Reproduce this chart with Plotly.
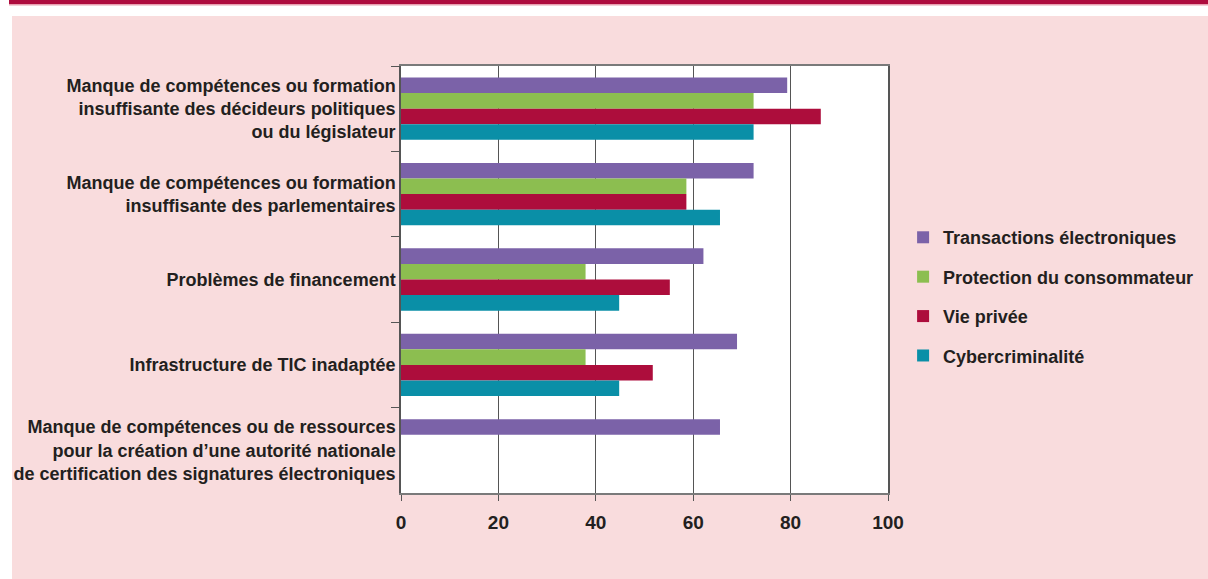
import plotly.graph_objects as go

categories = [
    "Manque de compétences ou formation<br>insuffisante des décideurs politiques<br>ou du législateur",
    "Manque de compétences ou formation<br>insuffisante des parlementaires",
    "Problèmes de financement",
    "Infrastructure de TIC inadaptée",
    "Manque de compétences ou de ressources<br>pour la création d’une autorité nationale<br>de certification des signatures électroniques",
]
series_names = [
    "Transactions électroniques",
    "Protection du consommateur",
    "Vie privée",
    "Cybercriminalité",
]
transactions = [79.3, 72.4, 62.1, 69.0, 65.5]
consommateur = [72.4, 58.6, 37.9, 37.9, None]
vie_privee = [86.2, 58.6, 55.2, 51.7, None]
cyber = [72.4, 65.5, 44.8, 44.8, None]
x_ticks = [0, 20, 40, 60, 80, 100]

colors = ["#7B62A8", "#8CBE50", "#AD0D3C", "#0A8FA7"]
values = [transactions, consommateur, vie_privee, cyber]

TEXT = "#231F20"
FONT = "Liberation Sans"

fig = go.Figure()
for name, vals, col in zip(series_names, values, colors):
    fig.add_trace(go.Bar(
        y=categories, x=vals, name=name, orientation="h",
        marker=dict(color=col, line=dict(width=0)),
        legendgroup=name,
    ))

fig.update_layout(
    width=1208, height=579,
    barmode="group", bargap=0.27, bargroupgap=0,
    paper_bgcolor="#F9DCDD", plot_bgcolor="white",
    margin=dict(l=401, r=320, t=66, b=86, autoexpand=False),
    font=dict(family=FONT, color=TEXT, size=18),
    showlegend=True,
    legend=dict(
        x=1.031, y=0.46, xanchor="left", yanchor="middle",
        font=dict(family=FONT, size=18, color=TEXT, weight="bold"),
        bgcolor="rgba(0,0,0,0)", tracegroupgap=13,
        itemwidth=30,
    ),
    xaxis=dict(
        range=[0, 100], tickvals=x_ticks, ticktext=[str(t) for t in x_ticks],
        showgrid=True, gridcolor="#555555", gridwidth=1,
        showline=True, linecolor="#7a7a7a", linewidth=1.5, mirror=True,
        ticks="outside", ticklen=6, tickcolor="#555555",
        tickfont=dict(family=FONT, size=19, color=TEXT, weight="bold"),
        ticklabelstandoff=5,
        zeroline=False, fixedrange=True,
    ),
    yaxis=dict(
        autorange="reversed",
        showline=True, linecolor="#555555", linewidth=1.5, mirror=True,
        ticks="outside", tickson="boundaries", ticklen=8, tickcolor="#555555",
        tickfont=dict(family=FONT, size=18, color=TEXT, weight="bold"),
        showgrid=False, ticklabelstandoff=0,
    ),
    shapes=[
        dict(type="rect", xref="paper", yref="paper",
             x0=-401/487, x1=(1208-401)/487, y0=(579-16-86)/427 + 0.0, y1=(579-86)/427,
             fillcolor="white", line=dict(width=0), layer="below"),
        dict(type="rect", xref="paper", yref="paper",
             x0=-401/487, x1=-389/487, y0=-86/427, y1=(579-86)/427,
             fillcolor="white", line=dict(width=0), layer="below"),
        dict(type="rect", xref="paper", yref="paper",
             x0=-392/487, x1=(1208-401)/487, y0=(579-86-4)/427, y1=(579-86)/427,
             fillcolor="#AE0C3E", line=dict(width=0), layer="above"),
        dict(type="rect", xref="paper", yref="paper",
             x0=-392/487, x1=(1208-401)/487, y0=(579-86-5.5)/427, y1=(579-86-4)/427,
             fillcolor="#E8A0B0", line=dict(width=0), layer="above"),
    ],
)

fig.write_html("out.html")
